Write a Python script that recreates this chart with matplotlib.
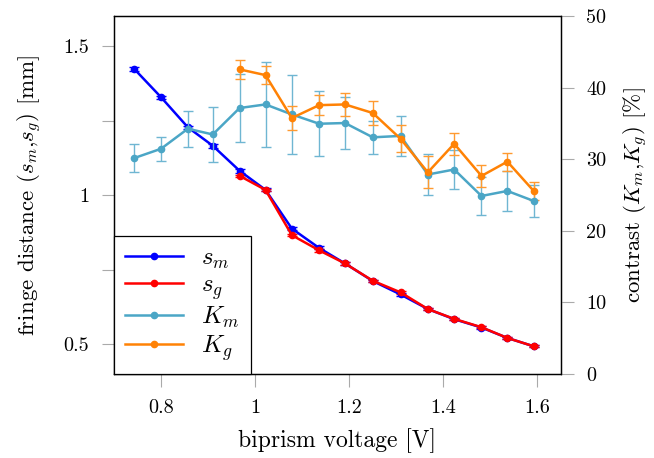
import matplotlib
matplotlib.use("Agg")
import matplotlib.pyplot as plt
from matplotlib.lines import Line2D
from matplotlib.ticker import FuncFormatter

plt.rcParams['font.family'] = 'serif'
plt.rcParams['font.serif'] = ['cmr10', 'DejaVu Serif']
plt.rcParams['mathtext.fontset'] = 'cm'
plt.rcParams['axes.formatter.use_mathtext'] = True

# biprism voltage [V]
voltage = [0.743, 0.800, 0.857, 0.910, 0.967, 1.022, 1.078, 1.136,
           1.191, 1.250, 1.309, 1.367, 1.423, 1.481, 1.536, 1.592]

# fringe distance [mm]
s_m = [1.424, 1.329, 1.228, 1.166, 1.082, 1.018, 0.888, 0.823,
       0.771, 0.712, 0.667, 0.618, 0.584, 0.556, 0.521, 0.493]
s_m_err = [0.006, 0.005, 0.005, 0.006, 0.006, 0.005, 0.006, 0.005,
           0.004, 0.004, 0.004, 0.004, 0.004, 0.004, 0.004, 0.004]
s_g = [1.065, 1.018, 0.866, 0.815, 0.771, 0.713, 0.674, 0.618,
       0.585, 0.557, 0.521, 0.493]
s_g_err = [0.004] * 12

# contrast [%]
K_m = [30.2, 31.5, 34.3, 33.5, 37.2, 37.7, 36.3, 35.0,
       35.1, 33.1, 33.3, 27.9, 28.6, 24.9, 25.6, 24.2]
K_m_err = [2.0, 1.7, 2.55, 3.9, 4.7, 5.9, 5.5, 4.55,
           3.6, 2.35, 2.75, 2.85, 2.75, 2.6, 2.85, 2.3]
K_g = [42.6, 41.8, 35.8, 37.6, 37.7, 36.5, 32.9, 28.2,
       32.2, 27.7, 29.7, 25.6]
K_g_err = [1.3, 1.3, 1.65, 1.4, 1.6, 1.7, 1.9, 2.25,
           1.55, 1.55, 1.25, 1.3]

colors = ['#0000ff', '#ff0000', '#4ba6c6', '#ff8205']
labels = ['$s_m$', '$s_g$', '$K_m$', '$K_g$']

fig = plt.figure(figsize=(6.54, 4.58), dpi=100)
ax = fig.add_axes([0.1743, 0.1834, 0.6835, 0.7806])
ax2 = ax.twinx()

kw = dict(marker='o', markersize=4.5, linewidth=1.8, capsize=3.5,
          elinewidth=1.0, capthick=1.0)

ax.errorbar(voltage, s_m, yerr=s_m_err, color=colors[0], **kw)
ax.errorbar(voltage[4:], s_g, yerr=s_g_err, color=colors[1], **kw)

ax2.errorbar(voltage, K_m, yerr=K_m_err, color=colors[2], ecolor='#6fb6d2', **kw)
ax2.errorbar(voltage[4:], K_g, yerr=K_g_err, color=colors[3], ecolor='#ff9a30', **kw)

ax.set_xlim(0.7, 1.65)
ax.set_ylim(0.4, 1.6)
ax2.set_ylim(0, 50)

fmt = FuncFormatter(lambda v, p: '%g' % round(v, 3))
ax.set_xticks([0.8, 1.0, 1.2, 1.4, 1.6])
ax.xaxis.set_major_formatter(fmt)
ax.set_yticks([0.5, 1.0, 1.5])
ax.set_yticks([0.75, 1.25], minor=True)
ax.yaxis.set_major_formatter(fmt)
ax2.set_yticks([0, 10, 20, 30, 40, 50])
ax2.yaxis.set_major_formatter(fmt)

for a in (ax, ax2):
    a.tick_params(which='both', direction='out', length=9, width=0.8,
                  color='#aaaaaa', labelsize=14.5)
    for s in a.spines.values():
        s.set_linewidth(0.9)
ax.tick_params(axis='x', pad=9)
ax.tick_params(axis='y', pad=9)
ax2.tick_params(axis='y', pad=9)

ax.set_xlabel('biprism voltage [V]', fontsize=17, labelpad=8)
ax.set_ylabel('fringe distance $(s_m$,$s_g)$ [mm]', fontsize=16.5, labelpad=14)
ax2.set_ylabel('contrast $(K_m$,$K_g)$ [%]', fontsize=16.5, labelpad=11)

handles = [Line2D([], [], color=c, marker='o', markersize=4.5, linewidth=1.8)
           for c in colors]
leg = ax2.legend(handles, labels, loc='lower left', borderaxespad=0,
                 fontsize=18, frameon=True, fancybox=False, edgecolor='black',
                 framealpha=1, handlelength=2.3, labelspacing=0.12,
                 borderpad=0.45, handletextpad=0.75)
leg.get_frame().set_linewidth(0.9)

fig.savefig('out.png', dpi=100)
